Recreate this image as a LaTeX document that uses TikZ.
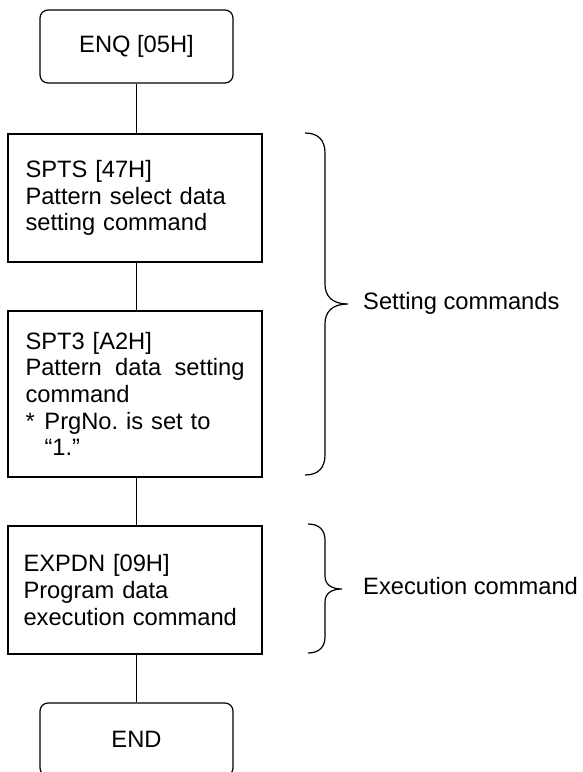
\documentclass[tikz,border=0pt]{standalone}
\usepackage{fontspec}
\setmainfont{Liberation Sans}
\frenchspacing
\begin{document}
\begin{tikzpicture}[x=1pt,y=-1pt,
  every node/.style={font=\fontsize{23.7}{26.6}\selectfont},
  line/.style={line width=1.2pt},
  term/.style={draw, line width=1.2pt, rounded corners=8pt, minimum width=193pt, minimum height=73pt, inner sep=0pt},
  proc/.style={draw, line width=1.2pt, minimum width=254pt, inner xsep=17pt, inner ysep=0pt, text width=219pt, align=left},
  lbl/.style={anchor=base west, inner sep=0pt}]
\useasboundingbox (0,0) rectangle (582,772);
\clip (0,0) rectangle (582,772);
\node[term] (enq) at (136.5,46.5) {ENQ [05H]};
\node[proc, minimum height=128pt] (spts) at (135,198) {SPTS [47H]\\Pattern select data\\setting command};
\node[proc, minimum height=166pt] (spt3) at (135,394) {SPT3 [A2H]\\\makebox[219pt]{Pattern\hfill data\hfill setting}\\command\\\makebox[19pt][l]{*}PrgNo.\ is set to\\\hspace*{19pt}“1.”};
\node[proc, minimum height=128pt, inner xsep=15pt, text width=223pt] (expdn) at (135,590) {EXPDN [09H]\\Program data\\execution command};
\node[term] (endn) at (136.5,739.5) {END};
\draw[line] (enq.south) -- (enq.south |- spts.north);
\draw[line] (enq.south |- spts.south) -- (enq.south |- spt3.north);
\draw[line] (enq.south |- spt3.south) -- (enq.south |- expdn.north);
\draw[line] (enq.south |- expdn.south) -- (endn.north);
% braces
\coordinate (b1tip) at (348,304);
\coordinate (b2tip) at (342,589);
\draw[line] (305,133) .. controls (318,133) and (325,140) .. (325,153) -- (325,284)
  .. controls (325,297) and (333,304) .. (b1tip)
  .. controls (333,304) and (325,311) .. (325,324) -- (325,455)
  .. controls (325,468) and (318,475) .. (305,475);
\draw[line] (308,524) .. controls (319,524) and (325,530) .. (325,540) -- (325,576)
  .. controls (325,585) and (332,589) .. (b2tip)
  .. controls (332,589) and (325,593) .. (325,602) -- (325,637)
  .. controls (325,647) and (319,653) .. (308,653);
\node[lbl] (set) at (363,309) {Setting commands};
\node[lbl] (exe) at (363,594) {Execution command};
\end{tikzpicture}
\end{document}
